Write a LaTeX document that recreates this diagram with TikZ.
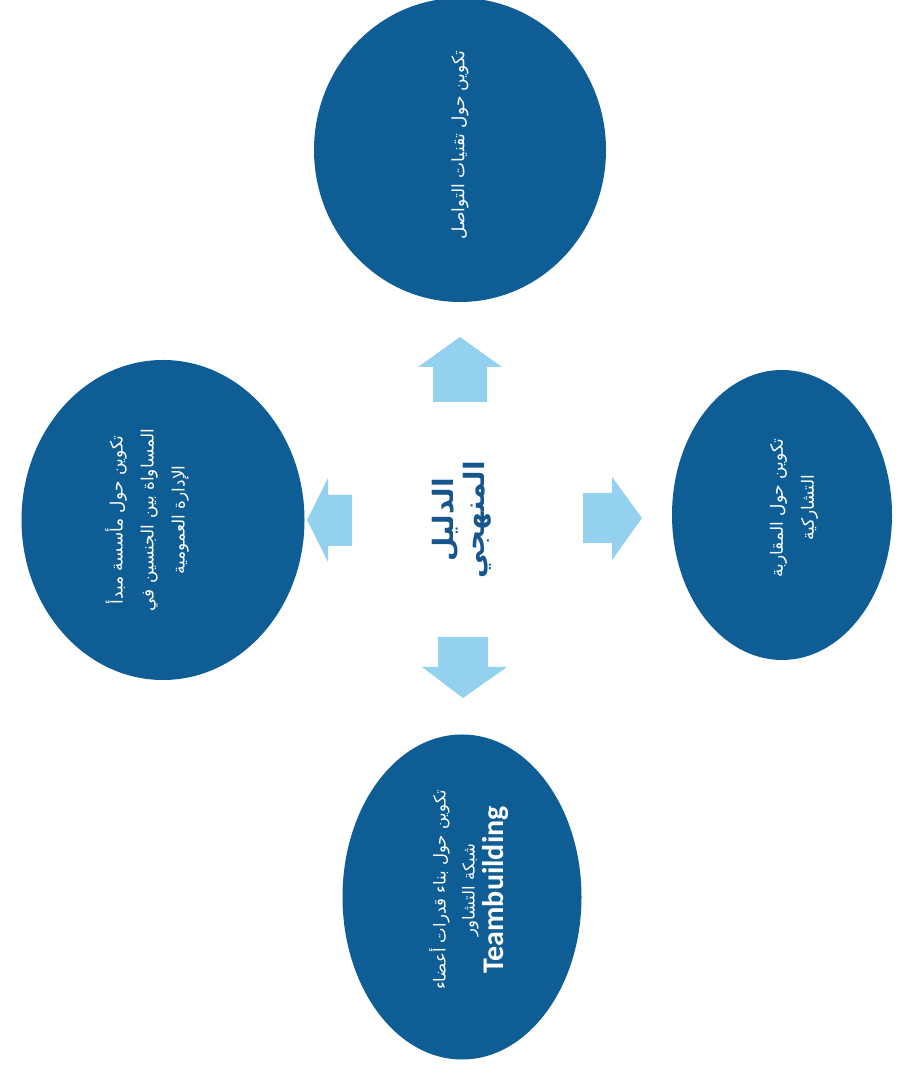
\documentclass[tikz,border=0pt]{standalone}
\usepackage{fontspec}
\TeXXeTstate=1
\newfontfamily\arabicfont[Script=Arabic]{DejaVu Sans}
\newfontfamily\teamfont{Carlito}
\usetikzlibrary{shapes.geometric}
\definecolor{bubbleblue}{RGB}{14,93,148}
\definecolor{arrowblue}{RGB}{147,209,238}
\definecolor{centerblue}{RGB}{22,86,140}
\begin{document}
\begin{tikzpicture}[x=1pt,y=1pt,
  bubble/.style={ellipse, fill=bubbleblue, draw=none, inner sep=0pt},
  bubbletext/.style={rotate=90, text=white, align=center, inner sep=0pt,
    font=\arabicfont\fontsize{17}{31}\selectfont},
  blockarrow/.style={fill=arrowblue, draw=none}]
\useasboundingbox[fill=white] (0,0) rectangle (920,1075);

% bubbles
\node[bubble, minimum width=292pt, minimum height=304pt] (top) at (460,925) {};
\node[bubble, minimum width=283pt, minimum height=320pt] (left) at (163,555) {};
\node[bubble, minimum width=220pt, minimum height=290pt] (right) at (782,560) {};
\node[bubble, minimum width=239pt, minimum height=325pt] (bottom) at (462,178) {};

% texts
\node[bubbletext] (toptext) at (460,930) {\beginR تكوين حول تقنيات التواصل\endR};
\node[bubbletext] (lefttext) at (147,555) {\beginR تكوين حول مأسسة مبدأ\endR\\\beginR المساواة بين الجنسين في\endR\\\beginR الإدارة العمومية\endR};
\node[bubbletext] (righttext) at (794,567) {\beginR تكوين حول المقاربة\endR\\\beginR التشاركية\endR};
\node[bubbletext, font=\arabicfont\fontsize{16.5}{29}\selectfont] (bottomtext) at (469,185) {\beginR تكوين حول بناء قدرات أعضاء\endR\\\beginR شبكة التشاور\endR\\{\teamfont\bfseries\fontsize{30}{31}\selectfont Teambuilding}};

\node[rotate=90, text=centerblue, align=center, inner sep=0pt,
  font=\arabicfont\bfseries\fontsize{28}{31}\selectfont] (center) at (462,555)
  {\beginR الدليل\endR\\\beginR المنهجي\endR};

% block arrows
\fill[blockarrow] (460,738) -- (502,708) -- (487,708) -- (487,673) -- (433,673) -- (433,708) -- (418,708) -- cycle;
\fill[blockarrow] (307,555) -- (328,597) -- (328,580) -- (352,580) -- (352,529) -- (328,529) -- (328,513) -- cycle;
\fill[blockarrow] (583,582) -- (612,582) -- (612,598) -- (642,557) -- (612,515) -- (612,532) -- (583,532) -- cycle;
\fill[blockarrow] (438,438) -- (488,438) -- (488,408) -- (507,408) -- (463,377) -- (422,408) -- (438,408) -- cycle;
\end{tikzpicture}
\end{document}
